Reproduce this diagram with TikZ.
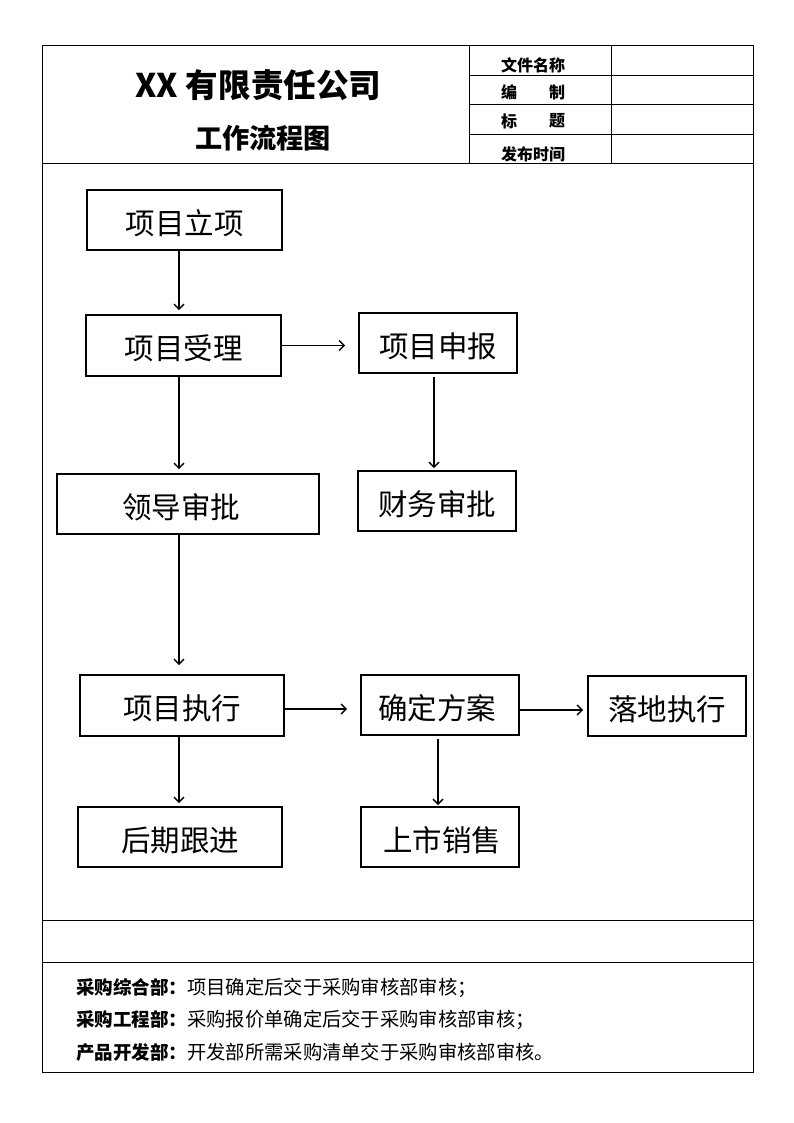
\documentclass[tikz,border=0pt]{standalone}
\usepackage{fontspec}
\setmainfont{Noto Sans CJK SC}
\usetikzlibrary{arrows.meta}
\begin{document}
\begin{tikzpicture}[x=1pt,y=-1pt,
  frame/.style={draw,line width=1pt},
  box/.style={draw,line width=1.8pt,inner sep=0pt,text height=30pt,text depth=2pt,font=\fontsize{29.5}{33}\selectfont},
  arr/.style={draw,line width=1.4pt,-{Straight Barb[length=5pt,width=10pt,line width=1.4pt]}},
  lab/.style={font=\bfseries\fontsize{16}{18}\selectfont},
  foot/.style={anchor=west,inner sep=0pt,font=\fontsize{19.3}{21}\selectfont}]
\useasboundingbox (0,0) rectangle (794,1123);
% frame and header
\draw[frame] (42,46) rectangle (753,1072);
\draw[frame] (42,164) -- (753,164);
\draw[frame] (469,46) -- (469,164);
\draw[frame] (611,46) -- (611,164);
\draw[frame] (469,76) -- (753,76);
\draw[frame] (469,105) -- (753,105);
\draw[frame] (469,135) -- (753,135);
\draw[frame] (42,920) -- (753,920);
\draw[frame] (42,962) -- (753,962);
\node[font=\bfseries\fontsize{32.6}{36}\selectfont] (title) at (258.5,85) {XX 有限责任公司};
\node[font=\bfseries\fontsize{27.2}{30}\selectfont] (sub) at (263,138) {工作流程图};
\node[lab] (l1) at (533,65) {文件名称};
\node[lab] (l2a) at (509,92) {编};
\node[lab] (l2b) at (557,92) {制};
\node[lab] (l3a) at (509,121) {标};
\node[lab] (l3b) at (557,121) {题};
\node[lab] (l4) at (533,154) {发布时间};
% boxes
\node[box,minimum width=195pt,minimum height=60pt] (a) at (184.5,220) {项目立项};
\node[box,minimum width=195pt,minimum height=61pt] (b) at (183.5,345.5) {项目受理};
\node[box,minimum width=158pt,minimum height=60pt] (c) at (438,343) {项目申报};
\node[box,minimum width=262pt,minimum height=60pt] (d) at (188,504) {\hspace*{-14pt}领导审批};
\node[box,minimum width=158pt,minimum height=60pt] (e) at (437,501) {财务审批};
\node[box,minimum width=204pt,minimum height=61pt] (f) at (182,705.5) {项目执行};
\node[box,minimum width=158pt,minimum height=60pt] (g) at (440,705) {\hspace*{-6pt}确定方案};
\node[box,minimum width=158pt,minimum height=60pt] (h) at (667,706) {落地执行};
\node[box,minimum width=204pt,minimum height=60pt] (i) at (180,837) {后期跟进};
\node[box,minimum width=158pt,minimum height=60pt] (j) at (440,837) {\hspace*{4pt}上市销售};
% connector columns
\coordinate (xl) at (179,0);
\coordinate (xm) at (434,0);
\coordinate (xn) at (438,0);
\draw[arr] (a.south -| xl) -- ([yshift=4pt]b.north -| xl);
\draw[arr] (b.east) -- ([xshift=-13pt]c.west |- b.east);
\draw[arr] (b.south -| xl) -- ([yshift=4pt]d.north -| xl);
\draw[arr] ([yshift=-3pt]c.south -| xm) -- ([yshift=2pt]e.north -| xm);
\draw[arr] (d.south -| xl) -- ([yshift=9pt]f.north -| xl);
\draw[arr] (f.east |- 0,709) -- ([xshift=-13pt]g.west |- 0,709);
\draw[arr] (g.east |- 0,710) -- ([xshift=-4pt]h.west |- 0,710);
\draw[arr] (f.south -| xl) -- ([yshift=3pt]i.north -| xl);
\draw[arr] ([yshift=-3pt]g.south -| xn) -- ([yshift=1pt]j.north -| xn);
% footer
\node[foot] (n1) at (76,988) {{\bfseries\fontsize{18.5}{21}\selectfont 采购综合部：}项目确定后交于采购审核部审核；};
\node[foot] (n2) at (76,1020) {{\bfseries\fontsize{18.5}{21}\selectfont 采购工程部：}采购报价单确定后交于采购审核部审核；};
\node[foot] (n3) at (76,1052) {{\bfseries\fontsize{18.5}{21}\selectfont 产品开发部：}开发部所需采购清单交于采购审核部审核。};
\end{tikzpicture}
\end{document}
